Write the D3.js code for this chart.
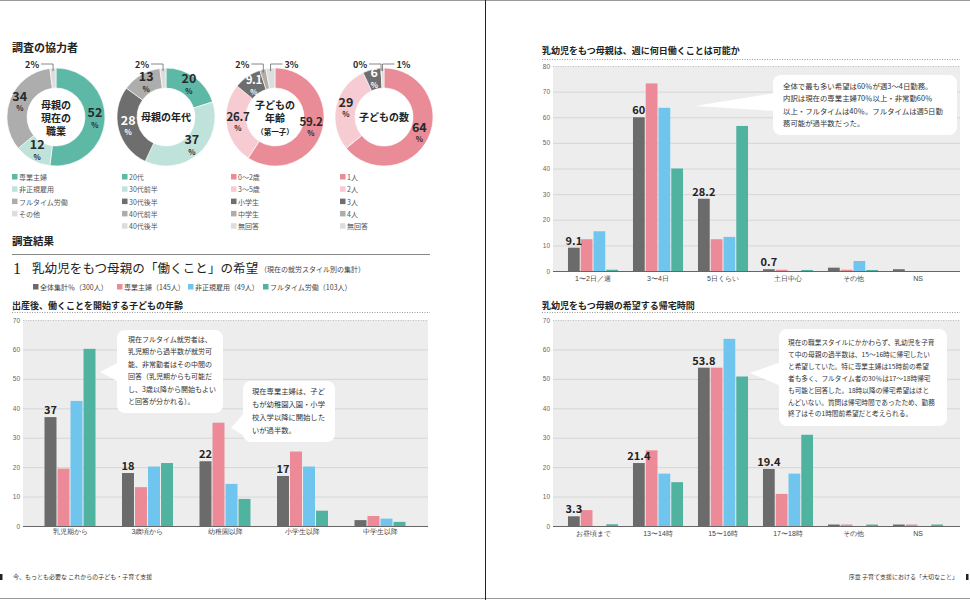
<!DOCTYPE html>
<html><head><meta charset="utf-8">
<script src="https://cdn.jsdelivr.net/npm/d3@7"></script>
<style>
html,body{margin:0;padding:0;background:#fff;}
svg{display:block;font-family:"Noto Sans CJK JP","Noto Sans",sans-serif;}
</style></head><body>
<svg id="c" width="970" height="600"></svg>
<script>
// ---------- DATA ----------
const donutJobCats = ["専業主婦","非正規雇用","フルタイム労働","その他"];
const donutJobVals = [52,12,34,2];
const donutAgeCats = ["20代","30代前半","30代後半","40代前半","40代後半"];
const donutAgeVals = [20,37,28,13,2];
const donutChildAgeCats = ["0〜2歳","3〜5歳","小学生","中学生","無回答"];
const donutChildAgeVals = [59.2,26.7,9.1,2,3];
const donutChildNumCats = ["1人","2人","3人","4人","無回答"];
const donutChildNumVals = [64,29,6,0,1];

const seriesNames = ["全体集計％（300人）","専業主婦（145人）","非正規雇用（49人）","フルタイム労働（103人）"];

const startCats = ["乳児期から","3歳頃から","幼稚園以降","小学生以降","中学生以降"];
const startTotal = [37,18,22,17,2];
const startHousewife = [19.5,13.2,35.1,25.3,3.4];
const startNonReg = [42.5,20.2,14.3,20.2,2.5];
const startFull = [60.2,21.4,9.2,5.2,1.4];
const startLabels = ["37","18","22","17",""];

const daysCats = ["1〜2日／週","3〜4日","5日くらい","土日中心","その他","NS"];
const daysTotal = [9.1,60,28.2,0.7,1.3,0.7];
const daysHousewife = [12.4,73.2,12.4,0.5,0.5,0];
const daysNonReg = [15.5,63.7,13.3,0,3.9,0];
const daysFull = [0.5,40,56.6,0.4,0.4,0];
const daysLabels = ["9.1","60","28.2","0.7","",""];

const homeCats = ["お昼頃まで","13〜14時","15〜16時","17〜18時","その他","NS"];
const homeTotal = [3.3,21.4,53.8,19.4,0.5,0.5];
const homeHousewife = [5.4,25.7,53.8,10.9,0.5,0.5];
const homeNonReg = [0,17.8,63.6,17.8,0,0];
const homeFull = [0.6,14.9,50.8,31,0.5,0.5];
const homeLabels = ["3.3","21.4","53.8","19.4","",""];

const ticks70 = [0,10,20,30,40,50,60,70];
const ticks80 = [0,10,20,30,40,50,60,70,80];

// ---------- STYLE ----------
const C = {teal:"#5DB8A6", lteal:"#BFE3DA", dgray:"#6E6E6E", mgray:"#ADADAD", lgray:"#DDDDDD",
           pink:"#E98C98", lpink:"#F6CCD2", bar0:"#6B6B6B", bar1:"#EC8A97", bar2:"#6FC5EE", bar3:"#4FB3A0"};
const barColors = [C.bar0,C.bar1,C.bar2,C.bar3];
const svg = d3.select("#c");

svg.append("rect").attr("width",970).attr("height",600).attr("fill","#fff");
svg.append("line").attr("x1",0).attr("x2",970).attr("y1",0.5).attr("y2",0.5).attr("stroke","#999");
svg.append("line").attr("x1",0).attr("x2",970).attr("y1",598.5).attr("y2",598.5).attr("stroke","#999");
svg.append("line").attr("x1",485.5).attr("x2",485.5).attr("y1",0).attr("y2",600).attr("stroke","#222");

function T(x,y,s,o={}){
  const t=svg.append("text").attr("x",x).attr("y",y).text(s)
    .attr("font-size",o.fs||8).attr("fill",o.fill||"#333")
    .attr("font-weight",o.fw||400).attr("text-anchor",o.anchor||"start");
  if(o.ls) t.attr("letter-spacing",o.ls);
  if(o.ff) t.attr("font-family",o.ff);
  return t;
}

// ---------- HEADERS ----------
T(12,52,"調査の協力者",{fs:11,fw:700,fill:"#222"});
T(12,245,"調査結果",{fs:10.5,fw:700,fill:"#222"});
svg.append("line").attr("x1",12).attr("x2",430).attr("y1",254.5).attr("y2",254.5).attr("stroke","#888");
T(13,274,"1",{fs:16,ff:"'Liberation Serif',serif",fill:"#222"});
T(32,273,"乳幼児をもつ母親の「働くこと」の希望",{fs:12.5,fill:"#222",ls:0.1});
T(260,272,"（現在の就労スタイル別の集計）",{fs:7,fill:"#444"});
const legX=[33,117,188,263];
seriesNames.forEach((s,i)=>{
  svg.append("rect").attr("x",legX[i]).attr("y",284).attr("width",5.5).attr("height",5.5).attr("fill",barColors[i]);
  T(legX[i]+7,290,s,{fs:7,fill:"#444"});
});
T(12,309,"出産後、働くことを開始する子どもの年齢",{fs:9,fw:700,fill:"#222"});
svg.append("line").attr("x1",12).attr("x2",430).attr("y1",312.5).attr("y2",312.5).attr("stroke","#999").attr("stroke-dasharray","1,1.5");
T(542,54,"乳幼児をもつ母親は、週に何日働くことは可能か",{fs:9,fw:700,fill:"#222"});
svg.append("line").attr("x1",542).attr("x2",960).attr("y1",59.5).attr("y2",59.5).attr("stroke","#999").attr("stroke-dasharray","1,1.5");
T(542,309,"乳幼児をもつ母親の希望する帰宅時間",{fs:9,fw:700,fill:"#222"});
svg.append("line").attr("x1",542).attr("x2",960).attr("y1",312.5).attr("y2",312.5).attr("stroke","#999").attr("stroke-dasharray","1,1.5");

// footer
svg.append("rect").attr("x",0).attr("y",574).attr("width",2.5).attr("height",6).attr("fill","#222");
T(13,579,"今、もっとも必要な これからの子ども・子育て支援",{fs:6,fill:"#333"});
T(958,579,"序章 子育て支援における「大切なこと」",{fs:6,fill:"#333",anchor:"end"});
svg.append("rect").attr("x",966).attr("y",574).attr("width",2.5).attr("height",6).attr("fill","#222");

// ---------- DONUTS ----------
const cy=117, rO=49, rI=29;
const donuts=[
  {cx:56, cats:donutJobCats, vals:donutJobVals, colors:[C.teal,C.lteal,C.mgray,C.lgray], center:["母親の","現在の","職業"], lx:12},
  {cx:166, cats:donutAgeCats, vals:donutAgeVals, colors:[C.teal,C.lteal,C.dgray,C.mgray,C.lgray], center:["母親の年代"], lx:122},
  {cx:275, cats:donutChildAgeCats, vals:donutChildAgeVals, colors:[C.pink,C.lpink,C.dgray,C.mgray,C.lgray], center:["子どもの","年齢","（第一子）"], lx:231},
  {cx:384, cats:donutChildNumCats, vals:donutChildNumVals, colors:[C.pink,C.lpink,C.dgray,C.mgray,C.lgray], center:["子どもの数"], lx:340}
];
const pie=d3.pie().sort(null).value(d=>d);
const arc=d3.arc().innerRadius(rI).outerRadius(rO);
donuts.forEach(d=>{
  const g=svg.append("g").attr("transform",`translate(${d.cx},${cy})`);
  const arcs=pie(d.vals);
  g.selectAll("path").data(arcs).join("path").attr("d",arc)
    .attr("fill",(a,i)=>d.colors[i]).attr("stroke","#fff").attr("stroke-width",0.6);
  let small=0;
  arcs.forEach((a,i)=>{
    const mid=(a.startAngle+a.endAngle)/2, v=d.vals[i];
    if(v>=5){
      const dec = !Number.isInteger(v);
      const r=(rI+rO)/2 - (dec?1.5:0), x=Math.sin(mid)*r, y=-Math.cos(mid)*r;
      const col=d.colors[i]===C.dgray?"#fff":"#2a2a2a";
      g.append("text").attr("x",x).attr("y",y-2).attr("text-anchor","middle")
        .attr("font-size",dec?11.5:12.5).attr("letter-spacing",dec?-0.3:0).attr("font-weight",700).attr("fill",col).text(String(v));
      g.append("text").attr("x",x).attr("y",y+8.5).attr("text-anchor","middle")
        .attr("font-size",7.5).attr("font-weight",700).attr("fill",col).text("%");
    } else {
      const side = small===0?-1:1; small++;
      const lx=Math.sin(mid)*(rO-2), y1=-53, y2=-Math.cos(mid)*rO+3;
      g.append("path").attr("d",`M${lx+side*12},${y1}H${lx}V${y2}`).attr("fill","none").attr("stroke","#555").attr("stroke-width",0.7);
      g.append("text").attr("x",lx+side*14).attr("y",y1+3.5).attr("text-anchor",side<0?"end":"start")
        .attr("font-size",9).attr("font-weight",700).attr("fill","#2a2a2a").text(v+"%");
    }
  });
  const n=d.center.length;
  d.center.forEach((s,j)=>{
    const yy = n===1 ? 4 : -8 + j*13;
    const small2 = s.startsWith("（");
    g.append("text").attr("x",0).attr("y",yy).attr("text-anchor","middle")
      .attr("font-size",small2?7.5:10).attr("font-weight",700).attr("fill","#222").text(s);
  });
  d.cats.forEach((c,i)=>{
    const yy=180+i*12.3;
    svg.append("rect").attr("x",d.lx).attr("y",yy-6).attr("width",5.5).attr("height",5.5).attr("fill",d.colors[i]);
    T(d.lx+7,yy,c,{fs:7,fill:"#555"});
  });
});

// ---------- BAR CHARTS ----------
function barChart(o){
  const g=svg.append("g");
  const y=d3.scaleLinear().domain([0,o.ticks[o.ticks.length-1]]).range([o.y0,o.y1]);
  g.append("rect").attr("x",o.bg[0]).attr("y",o.y1).attr("width",o.bg[1]-o.bg[0]).attr("height",o.y0-o.y1).attr("fill","#EDEDED");
  const tmax=o.ticks[o.ticks.length-1];
  g.selectAll("line.grid").data(o.ticks.filter(t=>t>0)).join("line")
    .attr("x1",o.bg[0]).attr("x2",o.bg[1]).attr("y1",t=>y(t)+0.5).attr("y2",t=>y(t)+0.5)
    .attr("stroke",t=>t===tmax?"#b5b5b5":"#d0d0d0").attr("stroke-width",0.8)
    .attr("stroke-dasharray",t=>t===tmax?"1,1.5":null);
  const ya=g.append("g").attr("transform",`translate(${o.tickX},0)`)
    .call(d3.axisLeft(y).tickValues(o.ticks).tickSize(0).tickPadding(0));
  ya.select(".domain").remove();
  ya.selectAll("text").attr("font-size",6.5).attr("fill","#666").attr("font-family",null);

  const x0=d3.scaleBand().domain(o.cats).range(o.xr).paddingInner(o.pad).paddingOuter(o.pad/2);
  const x1=d3.scaleBand().domain([0,1,2,3]).range([0,x0.bandwidth()]).paddingInner(0.08);
  const groups=g.selectAll("g.grp").data(o.cats).join("g").attr("transform",c=>`translate(${x0(c)},0)`);
  groups.selectAll("rect").data((c,ci)=>o.series.map((s,si)=>({si,v:s[ci]}))).join("rect")
    .attr("x",d=>x1(d.si)).attr("width",x1.bandwidth())
    .attr("y",d=>y(d.v)).attr("height",d=>y(0)-y(d.v)).attr("fill",d=>barColors[d.si]);
  groups.append("text").attr("x",x1(0)+x1.bandwidth()/2).attr("y",(c,ci)=>y(o.series[0][ci])-3)
    .attr("text-anchor","middle").attr("font-size",11).attr("font-weight",700).attr("fill","#222")
    .text((c,ci)=>o.labels[ci]);
  g.append("line").attr("x1",o.bg[0]).attr("x2",o.bg[1]).attr("y1",o.y0+0.5).attr("y2",o.y0+0.5).attr("stroke","#555").attr("stroke-width",0.9);
  const xa=g.append("g").attr("transform",`translate(0,${o.y0})`)
    .call(d3.axisBottom(x0).tickSize(0).tickPadding(o.catPad));
  xa.select(".domain").remove();
  xa.selectAll("text").attr("font-size",7).attr("fill","#444").attr("font-family",null);
}

barChart({cats:startCats, series:[startTotal,startHousewife,startNonReg,startFull], labels:startLabels,
  ticks:ticks70, y0:526, y1:320, bg:[23,428], xr:[31.25,418.75], pad:0.342, tickX:20, catPad:3});
barChart({cats:daysCats, series:[daysTotal,daysHousewife,daysNonReg,daysFull], labels:daysLabels,
  ticks:ticks80, y0:271, y1:66, bg:[553,960], xr:[560.5,950.5], pad:0.23, tickX:550, catPad:5});
barChart({cats:homeCats, series:[homeTotal,homeHousewife,homeNonReg,homeFull], labels:homeLabels,
  ticks:ticks70, y0:526, y1:320, bg:[553,960], xr:[560.5,950.5], pad:0.23, tickX:550, catPad:5});

// ---------- CALLOUTS ----------
function callout(b, tip, base, lines, fs, lh, pad){
  const g=svg.append("g");
  g.append("path").attr("d",`M${b[0]+2},${base[0]}L${tip[0]},${tip[1]}L${b[0]+2},${base[1]}Z`).attr("fill","#fff");
  g.append("rect").attr("x",b[0]).attr("y",b[1]).attr("width",b[2]-b[0]).attr("height",b[3]-b[1]).attr("rx",8).attr("fill","#fff");
  lines.forEach((s,i)=>{
    g.append("text").attr("x",b[0]+pad[0]).attr("y",b[1]+pad[1]+i*lh).attr("font-size",fs).attr("fill","#333").text(s);
  });
}
callout([117,330,223,413],[100,372],[362,382],
  ["現在フルタイム就労者は、","乳児期から過半数が就労可","能、非常勤者はその中間の","回答（乳児期からも可能だ","し、3歳以降から開始もよい","と回答が分かれる）。"],7,12.4,[11,12]);
callout([243,381,335,442],[231,428],[412,436],
  ["現在専業主婦は、子ど","もが幼稚園入園・小学","校入学以降に開始した","いが過半数。"],7.3,13,[9,13]);
callout([773,75,957,135],[695,106],[93,111],
  ["全体で最も多い希望は60％が週3〜4日勤務。","内訳は現在の専業主婦70％以上・非常勤60％","以上・フルタイムは40％。フルタイムは週5日勤","務可能が過半数だった。"],7.4,12.3,[10,14]);
callout([779,329,947,426],[750,373],[362,386],
  ["現在の職業スタイルにかかわらず、乳幼児を子育","て中の母親の過半数は、15〜16時に帰宅したい","と希望していた。特に専業主婦は15時前の希望","者も多く、フルタイム者の30％は17〜18時帰宅","も可能と回答した。18時以降の帰宅希望はほと","んどいない。質問は帰宅時間であったため、勤務","終了はその1時間前希望だと考えられる。"],6.7,11.9,[9,16]);
</script>
</body></html>
